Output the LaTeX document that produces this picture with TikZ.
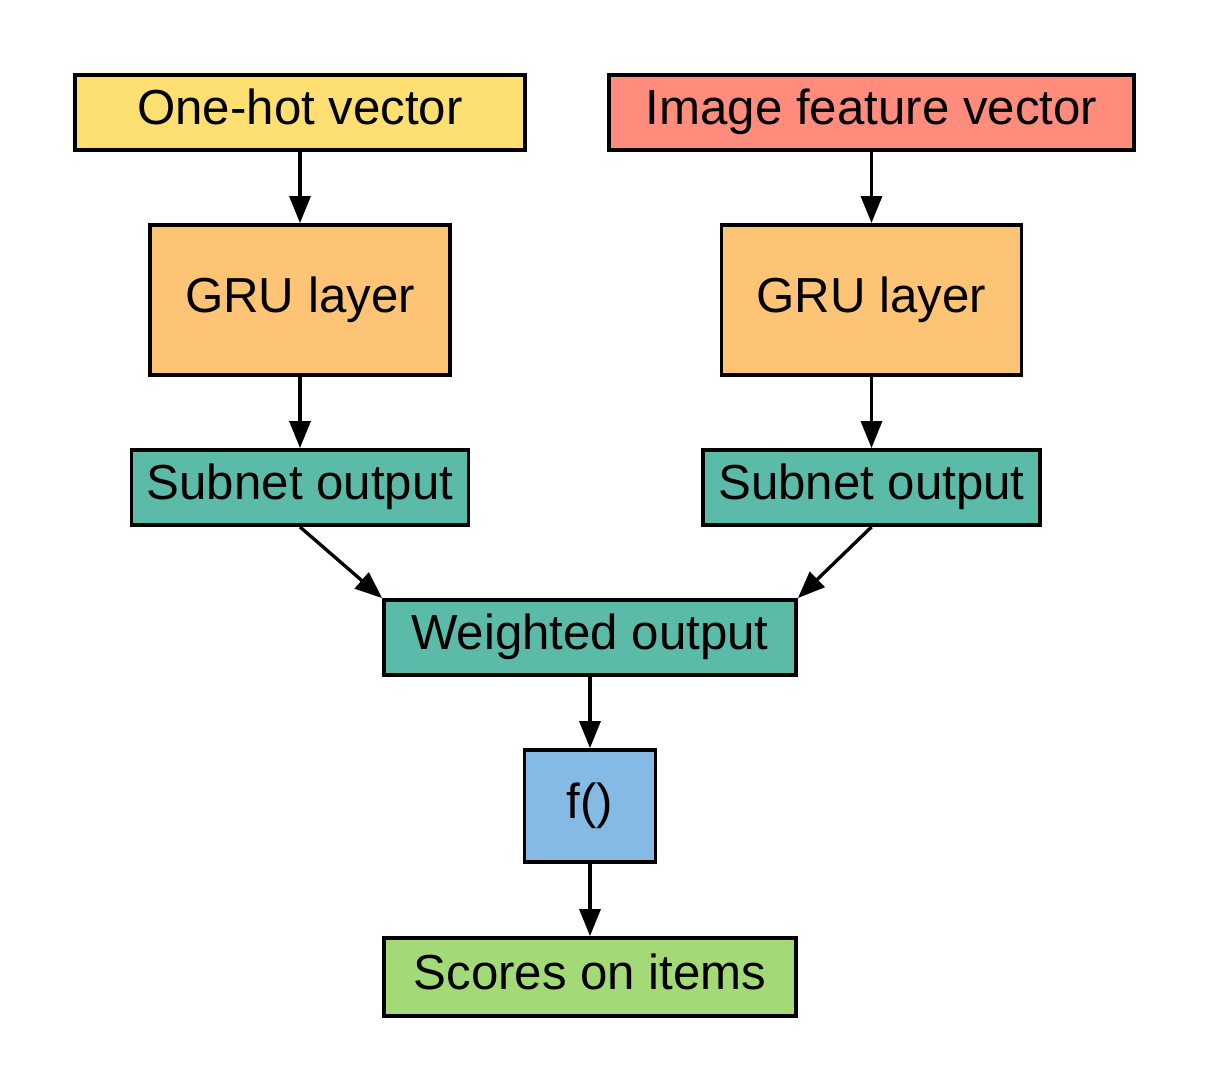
\documentclass[tikz,border=0pt]{standalone}
\usepackage{fontspec}
\setmainfont{Liberation Sans}
\usepackage{tikz}
\usetikzlibrary{arrows.meta,positioning}
\definecolor{onehotyellow}{HTML}{FEDF71}
\definecolor{imgsalmon}{HTML}{FF8C7D}
\definecolor{gruorange}{HTML}{FEC476}
\definecolor{subteal}{HTML}{5CBAA8}
\definecolor{fblue}{HTML}{85BAE5}
\definecolor{scoregreen}{HTML}{A3D977}

\begin{document}
\begin{tikzpicture}[
        blk/.style={rectangle, draw=black, line width=2.2pt, inner sep=0pt,
                    align=center, text height=22pt, text depth=8pt,
                    font=\fontsize{28}{34}\selectfont},
        flow/.style={-{Triangle[length=0.54cm, width=0.42cm]}, line width=1.9pt}
    ]
    \useasboundingbox (0,0) rectangle (24.18,-21.82);

    %% ── Input vectors ───────────────────────────────────────────────────────
    \node[blk, fill=onehotyellow, minimum width=9cm, minimum height=1.5cm]
        (onehot) at (6,-2.25) {One-hot vector};
    \node[blk, fill=imgsalmon, minimum width=10.5cm, minimum height=1.5cm]
        (imgfeat) at (17.43,-2.25) {Image feature vector};

    %% ── GRU subnets ─────────────────────────────────────────────────────────
    \node[blk, fill=gruorange, minimum width=6cm, minimum height=3cm]
        (gruL) at (6,-6) {GRU layer};
    \node[blk, fill=gruorange, minimum width=6cm, minimum height=3cm]
        (gruR) at (17.43,-6) {GRU layer};

    \node[blk, fill=subteal, minimum width=6.74cm, minimum height=1.5cm]
        (subL) at (6,-9.75) {Subnet output};
    \node[blk, fill=subteal, minimum width=6.74cm, minimum height=1.5cm]
        (subR) at (17.43,-9.75) {Subnet output};

    %% ── Merge and scoring ───────────────────────────────────────────────────
    \node[blk, fill=subteal, minimum width=8.24cm, minimum height=1.5cm]
        (weighted) at (11.8,-12.75) {Weighted output};
    \node[blk, fill=fblue, minimum width=2.62cm, minimum height=2.24cm]
        (fbox) at (11.8,-16.12) {f()};
    \node[blk, fill=scoregreen, minimum width=8.24cm, minimum height=1.56cm]
        (scores) at (11.8,-19.54) {Scores on items};

    %% ── Connectors ──────────────────────────────────────────────────────────
    \draw[flow] (onehot.south) -- (gruL.north);
    \draw[flow] (imgfeat.south) -- (gruR.north);
    \draw[flow] (gruL.south) -- (subL.north);
    \draw[flow] (gruR.south) -- (subR.north);
    \draw[flow] (subL.south) -- (weighted.north west);
    \draw[flow] (subR.south) -- (weighted.north east);
    \draw[flow] (weighted.south) -- (fbox.north);
    \draw[flow] (fbox.south) -- (scores.north);

\end{tikzpicture}
\end{document}
